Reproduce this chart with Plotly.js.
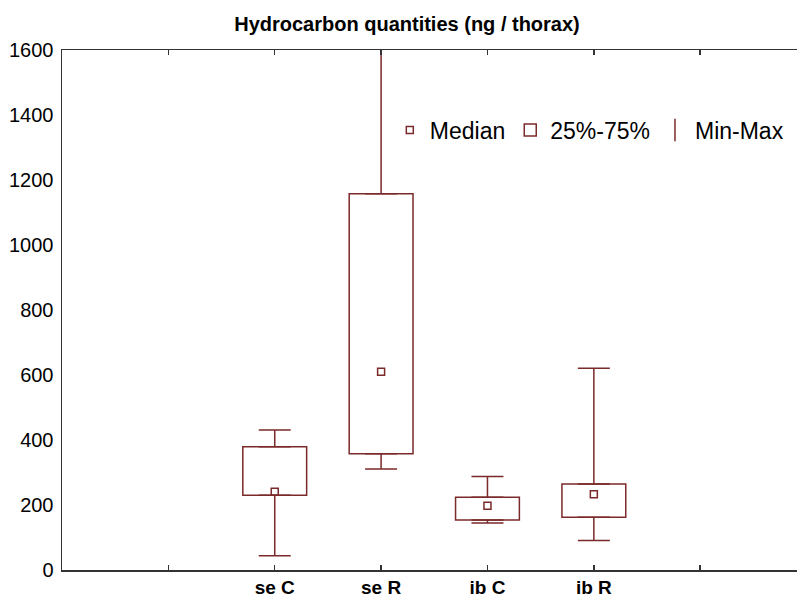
<!DOCTYPE html>
<html>
<head>
<meta charset="utf-8">
<script src="https://cdn.plot.ly/plotly-3.0.1.min.js"></script>
<style>html,body{margin:0;padding:0;background:#fff;}#chart{width:797px;height:599px;}</style>
</head>
<body>
<div id="chart"></div>
<script>
// Data
var categories = ['se C', 'se R', 'ib C', 'ib R'];
var q1Vals     = [230, 358, 154, 162];
var medianVals = [241, 610, 198, 233];
var q3Vals     = [379, 1158, 224, 265];
var minVals    = [44, 311, 145, 91];
var maxVals    = [431, 1700, 288, 621];

var tickLabels = [''].concat(categories).concat(['']);

var C = '#7a2a2a';
var xs = categories.map(function (c, i) { return i + 1; });
var tickVals = tickLabels.map(function (t, i) { return i; });
var zeros = categories.map(function () { return 0; });

var traces = [
  {
    type: 'scatter', mode: 'markers', name: 'Median', legendrank: 1,
    x: xs, y: medianVals,
    marker: { symbol: 'square-open', size: 7, color: C, line: { color: C, width: 1.5 } },
    hoverinfo: 'skip'
  },
  {
    type: 'bar', name: '25%-75%', legendrank: 2,
    x: xs, base: q1Vals, y: q3Vals.map(function (v, i) { return v - q1Vals[i]; }),
    width: 0.6,
    marker: { color: 'rgba(255,255,255,0)', line: { color: C, width: 1.5 } },
    hoverinfo: 'skip'
  },
  {
    type: 'scatter', mode: 'markers', showlegend: false,
    x: xs, y: q3Vals,
    marker: { size: 1, opacity: 0 },
    error_y: { type: 'data', symmetric: false,
      array: maxVals.map(function (v, i) { return v - q3Vals[i]; }),
      arrayminus: zeros, width: 16, thickness: 1.5, color: C },
    hoverinfo: 'skip'
  },
  {
    type: 'scatter', mode: 'markers', showlegend: false,
    x: xs, y: q1Vals,
    marker: { size: 1, opacity: 0 },
    error_y: { type: 'data', symmetric: false,
      array: zeros,
      arrayminus: q1Vals.map(function (v, i) { return v - minVals[i]; }),
      width: 16, thickness: 1.5, color: C },
    hoverinfo: 'skip'
  },
  {
    type: 'scatter', mode: 'markers', name: 'Min-Max', legendrank: 3,
    x: [null], y: [null],
    marker: { symbol: 'line-ns-open', size: 16, color: C, line: { color: C, width: 1.5 } },
    hoverinfo: 'skip'
  }
];

var layout = {
  width: 797, height: 599,
  margin: { l: 62, r: 0, t: 50, b: 29 },
  paper_bgcolor: '#fff', plot_bgcolor: '#fff',
  font: { family: 'Arial, "Liberation Sans", sans-serif', color: '#000' },
  showlegend: true,
  title: {
    text: '<b>Hydrocarbon quantities (ng / thorax)</b>',
    font: { size: 20, color: '#000', family: 'Arial, "Liberation Sans", sans-serif' },
    x: 407 / 797, xref: 'container', xanchor: 'center',
    y: 1 - 24 / 599, yref: 'container', yanchor: 'middle'
  },
  legend: {
    orientation: 'h', x: 0.446, xanchor: 'left', y: 0.846, yanchor: 'middle',
    font: { size: 23, color: '#000' }, bgcolor: 'rgba(0,0,0,0)', traceorder: 'normal'
  },
  xaxis: {
    range: [-1, 5.91], showgrid: false, zeroline: false,
    tickmode: 'array', tickvals: tickVals, ticktext: tickLabels,
    ticks: 'inside', ticklen: 5, tickwidth: 1.5, tickcolor: '#333',
    showline: true, linecolor: '#333', linewidth: 1.5, mirror: 'ticks',
    tickfont: { size: 19, color: '#000', family: 'Arial, "Liberation Sans", sans-serif', weight: 'bold' }
  },
  yaxis: {
    range: [0, 1600], dtick: 200, showgrid: false, zeroline: false,
    ticks: '', showline: true, linecolor: '#333', linewidth: 1.5,
    ticklabelstandoff: 3,
    tickfont: { size: 20, color: '#000' }
  },
  bargap: 0
};

Plotly.newPlot('chart', traces, layout, { staticPlot: true, displayModeBar: false });
</script>
</body>
</html>
